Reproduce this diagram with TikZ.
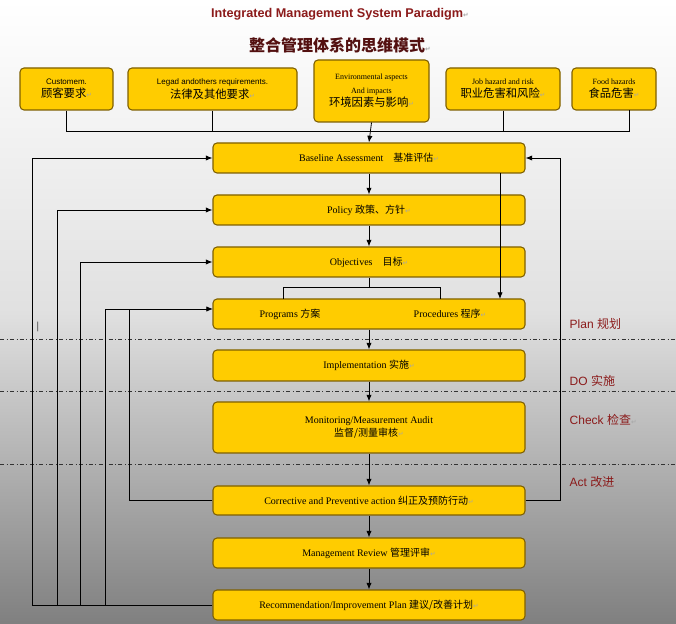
\documentclass[tikz,border=0pt]{standalone}
\usepackage{fontspec}
\setmainfont{Liberation Serif}
\newfontfamily\cjk{Noto Sans CJK SC}
\newfontfamily\arial{Liberation Sans}
\newfontfamily\dv{DejaVu Sans}
\usetikzlibrary{arrows.meta}
\definecolor{boxfill}{HTML}{FFCC00}
\definecolor{boxline}{HTML}{7F6000}
\definecolor{darkred}{HTML}{8B1A1A}
\newcommand{\parmk}{{\dv\color{gray!70}\fontsize{5}{5}\selectfont ↵}}
\tikzset{
  box/.style={draw=boxline, line width=0.8pt, fill=boxfill, rounded corners=3pt, align=center, inner sep=0pt, font=\fontsize{7.5}{10}\selectfont},
  conn/.style={black, line width=0.6pt},
  arr/.style={conn, -{Latex[length=5pt,width=4pt]}},
  phase/.style={dash dot, line width=0.6pt, black!80},
  plabel/.style={text=darkred, anchor=west, font=\arial\fontsize{9}{10}\selectfont},
}
\begin{document}
\begin{tikzpicture}[x=0.75pt,y=-0.75pt]
\shade[top color=white, bottom color=black!50, middle color=black!12] (0,0) rectangle (676,624);
\useasboundingbox (0,0) rectangle (676,624);
% titles
\node[text=darkred, font=\arial\bfseries\fontsize{9.5}{11}\selectfont] (t1) at (340,14) {Integrated Management System Paradigm\parmk};
\node[text=darkred!60!black, font=\cjk\bfseries\fontsize{12}{14}\selectfont] (t2) at (340,45) {整合管理体系的思维模式\parmk};
% top boxes
\node[box, minimum width=93*0.75pt, minimum height=42*0.75pt] (cu) at (66.5,89) {{\arial\fontsize{6}{8}\selectfont Customem.}\\{\cjk\fontsize{8.5}{10}\selectfont 顾客要求}\parmk};
\node[box, minimum width=169*0.75pt, minimum height=42*0.75pt] (le) at (212.5,89) {{\arial\fontsize{6}{8}\selectfont Legad andothers requirements.}\\{\cjk\fontsize{8.5}{10}\selectfont 法律及其他要求}\parmk};
\node[box, minimum width=115*0.75pt, minimum height=62*0.75pt] (en) at (371.5,91) {{\fontsize{6}{8}\selectfont Environmental aspects}\\{\fontsize{6}{8}\selectfont And impacts}\\{\cjk\fontsize{8.5}{10}\selectfont 环境因素与影响}\parmk};
\node[box, minimum width=114*0.75pt, minimum height=42*0.75pt] (jo) at (503,89) {{\fontsize{6}{8}\selectfont Job hazard and risk}\\{\cjk\fontsize{8.5}{10}\selectfont 职业危害和风险}\parmk};
\node[box, minimum width=84*0.75pt, minimum height=42*0.75pt] (fo) at (614,89) {{\fontsize{6}{8}\selectfont Food hazards}\\{\cjk\fontsize{8.5}{10}\selectfont 食品危害}\parmk};
% main boxes
\def\bw{312*0.75pt}
\node[box, minimum width=\bw, minimum height=30*0.75pt] (ba) at (369,158) {Baseline Assessment\quad{\cjk 基准评估}\parmk};
\node[box, minimum width=\bw, minimum height=30*0.75pt] (po) at (369,210) {Policy {\cjk 政策、方针}\parmk};
\node[box, minimum width=\bw, minimum height=30*0.75pt] (ob) at (369,262) {Objectives\quad{\cjk 目标}\parmk};
\node[box, minimum width=\bw, minimum height=30*0.75pt] (pr) at (369,314) {};
\node[font=\fontsize{7.5}{10}\selectfont] (prl) at (290,314) {Programs {\cjk 方案}};
\node[font=\fontsize{7.5}{10}\selectfont] (prr) at (450,314) {Procedures {\cjk 程序}\parmk};
\node[box, minimum width=\bw, minimum height=31*0.75pt] (im) at (369,365.5) {Implementation {\cjk 实施}\parmk};
\node[box, minimum width=\bw, minimum height=51*0.75pt] (mo) at (369,427.5) {Monitoring/Measurement Audit\\{\cjk 监督/测量审核}\parmk};
\node[box, minimum width=\bw, minimum height=29*0.75pt] (co) at (369,500.5) {Corrective and Preventive action {\cjk 纠正及预防行动}\parmk};
\node[box, minimum width=\bw, minimum height=30*0.75pt] (ma) at (369,553) {Management Review {\cjk 管理评审}\parmk};
\node[box, minimum width=\bw, minimum height=30*0.75pt] (re) at (369,605) {Recommendation/Improvement Plan {\cjk 建议/改善计划}\parmk};
% phase lines
\draw[phase] (0,339) -- (676,339);
\draw[phase] (0,391) -- (676,391);
\draw[phase] (0,464) -- (676,464);
\node[plabel] (p1) at (565,324) {Plan {\cjk 规划}};
\node[plabel] (p2) at (565,381) {DO {\cjk 实施}};
\node[plabel] (p3) at (565,420) {Check {\cjk 检查}\parmk};
\node[plabel] (p4) at (565,482) {Act {\cjk 改进}\parmk};
\node[font=\fontsize{8}{8}\selectfont] (bar) at (38,327) {|};
% top connectors
\draw[conn] (cu.south) -- (66.5,131) -- (629,131) -- (629,110);
\draw[conn] (le.south) -- (212.5,131);
\draw[conn] (jo.south) -- (503,131);
\draw[arr] (en.south) -- (ba.north);
% main vertical flow
\draw[arr] (ba.south) -- (po.north);
\draw[arr] (po.south) -- (ob.north);
\draw[conn] (ob.south) -- (369,287);
\draw[conn] (283,299) -- (283,287) -- (440,287) -- (440,299);
\draw[arr] (pr.south) -- (im.north);
\draw[arr] (im.south) -- (mo.north);
\draw[arr] (mo.south) -- (co.north);
\draw[arr] (co.south) -- (ma.north);
\draw[arr] (ma.south) -- (re.north);
\draw[arr] (500,173) -- (500,299);
% feedback
\draw[arr] (re.west) -- (32,605) -- (32,158) -- (ba.west);
\draw[arr] (57,605) -- (57,210) -- (po.west);
\draw[arr] (80,605) -- (80,262) -- (ob.west);
\draw[arr] (105,605) -- (105,309) -- (213,309);
\draw[conn] (co.west) -- (129,500.5) -- (129,309);
\draw[arr] (co.east) -- (560,500.5) -- (560,158) -- (ba.east);
\end{tikzpicture}
\end{document}
